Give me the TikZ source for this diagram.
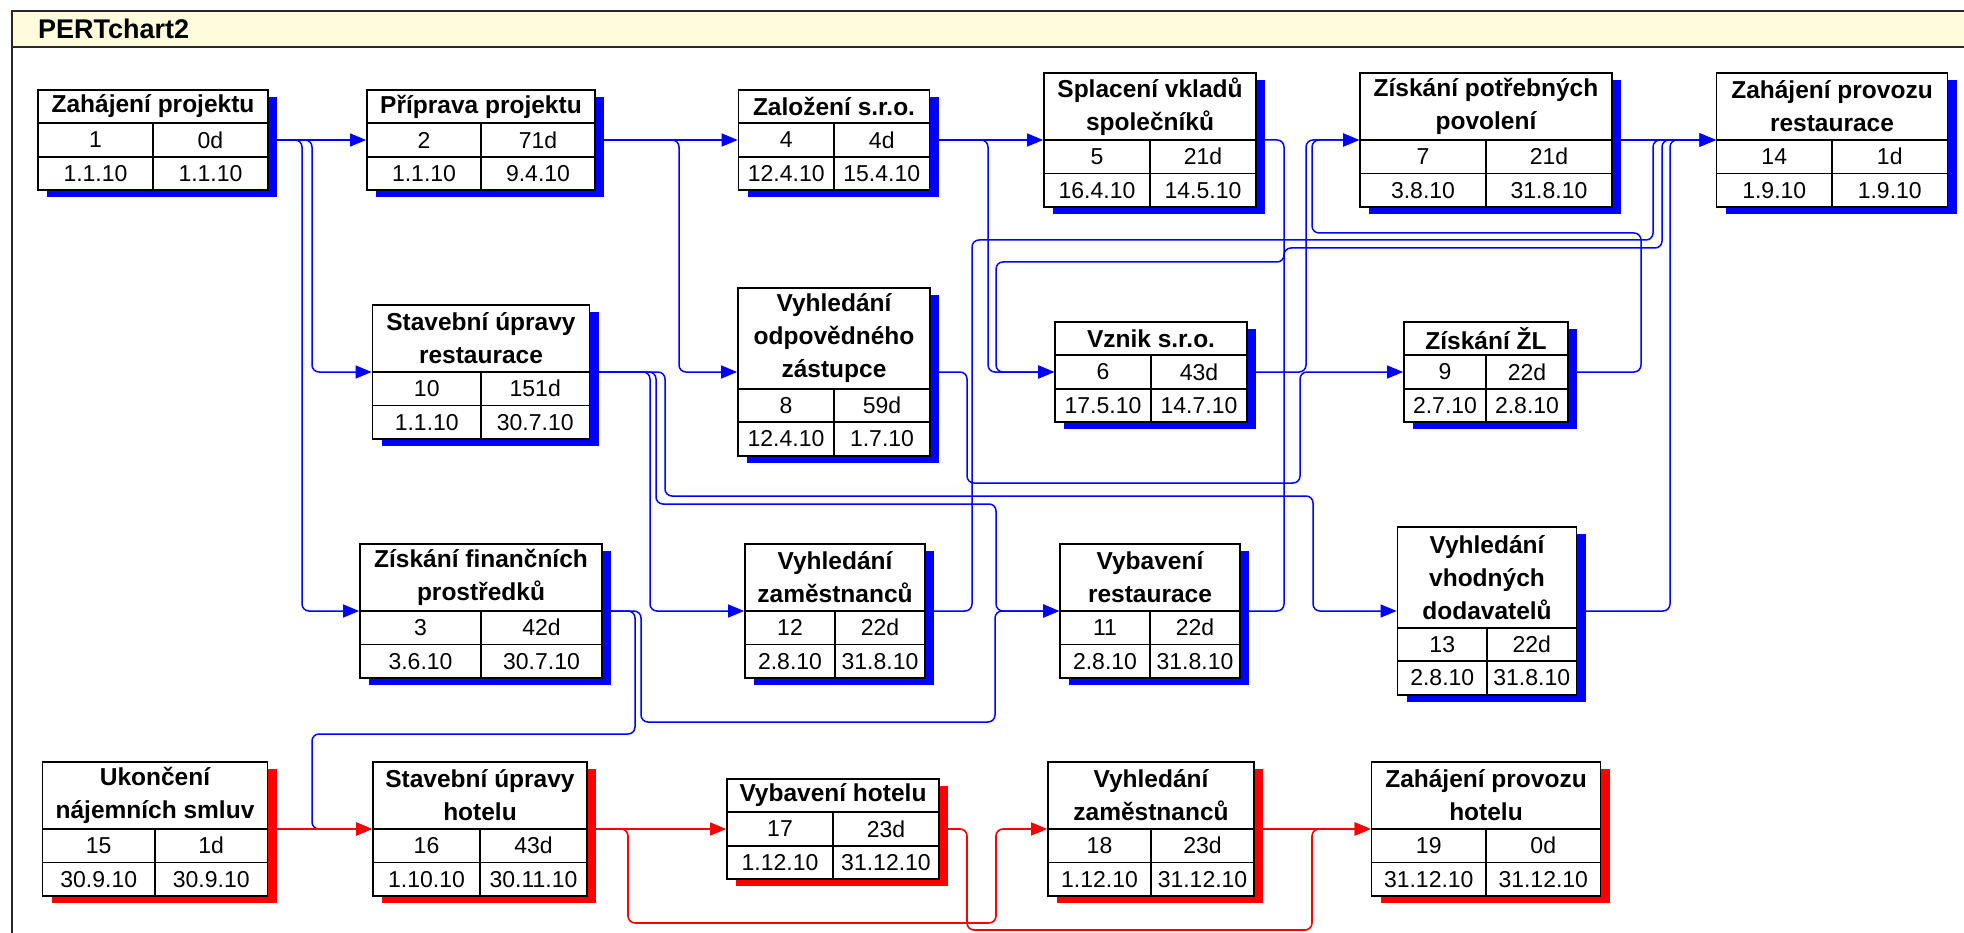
\documentclass[tikz,border=0pt]{standalone}
\usepackage{fontspec}
\setmainfont{Liberation Sans}
\usetikzlibrary{arrows.meta,shadows}
\definecolor{pblue}{RGB}{0,0,255}
\definecolor{pred}{RGB}{255,0,0}
\definecolor{titlefill}{RGB}{255,252,222}
\definecolor{framegray}{RGB}{40,40,40}
\pgfdeclarelayer{bgzero}
\pgfdeclarelayer{bgone}
\pgfsetlayers{bgzero,bgone,main}
\newcommand\rowh{33.5}
\newcommand\pbox[9]{%
  \pgfmathsetmacro\ph{(#6+2)*\rowh}%
  \pgfmathsetmacro\ptop{#4-\ph/2}%
  \pgfmathsetmacro\pya{\ptop+#6*\rowh}%
  \pgfmathsetmacro\pyb{\pya+\rowh}%
  \pgfmathsetmacro\pbot{\ptop+\ph}%
  \pgfmathsetmacro\pl{#3-#5/2}%
  \pgfmathsetmacro\pr{#3+#5/2}%
  \pgfmathsetmacro\pyt{(\ptop+\pya)/2}%
  \pgfmathsetmacro\pyc{(\pya+\pyb)/2}%
  \pgfmathsetmacro\pyd{(\pyb+\pbot)/2}%
  \def\pcx{#3}\def\pname{#1}%
  \node[#2, minimum width=#5, minimum height=\ph] (#1) at (#3,#4) {};
  \node[titletext] (#1-t) at (#3,\pyt) {#7};
  \draw[cell] (\pl,\pya) -- (\pr,\pya) (\pl,\pyb) -- (\pr,\pyb) (#3,\pya) -- (#3,\pbot);
  \node[datatext] (#1-id) at ({(\pl+#3)/2},\pyc) {#8};
  \node[datatext] (#1-du) at ({(\pr+#3)/2},\pyc) {#9};}
\newcommand\pdates[2]{%
  \node[datatext] (\pname-s) at ({(\pl+\pcx)/2},\pyd) {#1};
  \node[datatext] (\pname-e) at ({(\pr+\pcx)/2},\pyd) {#2};}
\begin{document}
\begin{tikzpicture}[x=1pt,y=-1pt,
  boxb/.style={draw=black,line width=1.8pt,fill=white,inner sep=0pt,
     general shadow={fill=pblue,shadow xshift=9pt,shadow yshift=-7pt}},
  boxr/.style={draw=black,line width=1.8pt,fill=white,inner sep=0pt,
     general shadow={fill=pred,shadow xshift=9pt,shadow yshift=-7pt}},
  titletext/.style={font=\bfseries\fontsize{24.5}{33}\selectfont,align=center,inner sep=0pt},
  datatext/.style={font=\fontsize{23}{27}\selectfont,inner sep=0pt},
  cell/.style={line width=1.8pt,draw=black},
  link/.style={draw=pblue,line width=1.5pt,rounded corners=7pt,-{Triangle[length=16pt,width=13pt]}},
  crit/.style={link,draw=pred,line width=1.6pt},
  frameline/.style={draw=framegray,line width=2pt}
]
\useasboundingbox (0,0) rectangle (1964,933);
\begin{pgfonlayer}{bgzero}
\fill[white] (0,0) rectangle (1964,933);
\fill[titlefill] (12,11) rectangle (1964,47);
\draw[frameline] (12,933) -- (12,11) -- (1964,11);
\draw[frameline] (12,47) -- (1964,47);
\end{pgfonlayer}
\node[anchor=west,font=\bfseries\fontsize{27}{30}\selectfont,inner sep=0pt] (charttitle) at (38,29) {PERTchart2};

% ---------- boxes ----------
\pbox{t1}{boxb}{153}{140}{230}{1}{Zahájení projektu}{1}{0d}\pdates{1.1.10}{1.1.10}
\pbox{t2}{boxb}{481}{140}{228}{1}{Příprava projektu}{2}{71d}\pdates{1.1.10}{9.4.10}
\pbox{t4}{boxb}{834}{140}{191}{1}{Založení s.r.o.}{4}{4d}\pdates{12.4.10}{15.4.10}
\pbox{t5}{boxb}{1150}{140}{212}{2}{Splacení vkladů\\společníků}{5}{21d}\pdates{16.4.10}{14.5.10}
\pbox{t7}{boxb}{1486}{140}{252}{2}{Získání potřebných\\povolení}{7}{21d}\pdates{3.8.10}{31.8.10}
\pbox{t14}{boxb}{1832}{140}{231}{2}{Zahájení provozu\\restaurace}{14}{1d}\pdates{1.9.10}{1.9.10}
\pbox{t10}{boxb}{481}{372}{217}{2}{Stavební úpravy\\restaurace}{10}{151d}\pdates{1.1.10}{30.7.10}
\pbox{t8}{boxb}{834}{372}{192}{3}{Vyhledání\\odpovědného\\zástupce}{8}{59d}\pdates{12.4.10}{1.7.10}
\pbox{t6}{boxb}{1151}{372}{192}{1}{Vznik s.r.o.}{6}{43d}\pdates{17.5.10}{14.7.10}
\pbox{t9}{boxb}{1486}{372}{164}{1}{Získání ŽL}{9}{22d}\pdates{2.7.10}{2.8.10}
\pbox{t3}{boxb}{481}{611}{242}{2}{Získání finančních\\prostředků}{3}{42d}\pdates{3.6.10}{30.7.10}
\pbox{t12}{boxb}{835}{611}{180}{2}{Vyhledání\\zaměstnanců}{12}{22d}\pdates{2.8.10}{31.8.10}
\pbox{t11}{boxb}{1150}{611}{180}{2}{Vybavení\\restaurace}{11}{22d}\pdates{2.8.10}{31.8.10}
\pbox{t13}{boxb}{1487}{611}{179}{3}{Vyhledání\\vhodných\\dodavatelů}{13}{22d}\pdates{2.8.10}{31.8.10}
\pbox{t15}{boxr}{155}{829}{225}{2}{Ukončení\\nájemních smluv}{15}{1d}\pdates{30.9.10}{30.9.10}
\pbox{t16}{boxr}{480}{829}{214}{2}{Stavební úpravy\\hotelu}{16}{43d}\pdates{1.10.10}{30.11.10}
\pbox{t17}{boxr}{833}{829}{212}{1}{Vybavení hotelu}{17}{23d}\pdates{1.12.10}{31.12.10}
\pbox{t18}{boxr}{1151}{829}{206}{2}{Vyhledání\\zaměstnanců}{18}{23d}\pdates{1.12.10}{31.12.10}
\pbox{t19}{boxr}{1486}{829}{229}{2}{Zahájení provozu\\hotelu}{19}{0d}\pdates{31.12.10}{31.12.10}

\begin{pgfonlayer}{bgone}
% ---------- non-critical links ----------
\draw[link] (t1.east) -- (t2.west);
\draw[link] (t1.east) -| (312,372) -- (t10.west);
\draw[link] (t1.east) -| (302,611) -- (t3.west);
\draw[link] (t2.east) -- (t4.west);
\draw[link] (t2.east) -| (679,372) -- (t8.west);
\draw[link] (t4.east) -- (t5.west);
\draw[link] (t4.east) -| (988,372) -- (t6.west);
\draw[link] (t5.east) -| (1284,262) -| (996,372) -- (t6.west);
\draw[link] (t6.east) -| (1306,140) -- (t7.west);
\draw[link] (t8.east) -| (967,483) -| (1300,372) -- (t9.west);
\draw[link] (t9.east) -| (1641,233) -| (1312,140) -- (t7.west);
\draw[link] (t10.east) -| (650,611) -- (t12.west);
\draw[link] (t10.east) -| (656,504) -| (996,611) -- (t11.west);
\draw[link] (t10.east) -| (665,496) -| (1313,611) -- (t13.west);
\draw[link] (t3.east) -| (641,722) -| (995,611) -- (t11.west);
\draw[link] (t3.east) -| (635,734) -| (312,829) -- (t16.west);
\draw[link] (t11.east) -| (1284,248) -| (1662,140) -- (t14.west);
\draw[link] (t12.east) -| (972,240) -| (1653,140) -- (t14.west);
\draw[link] (t13.east) -| (1670,140) -- (t14.west);
\draw[link] (t7.east) -- (t14.west);
% ---------- critical links ----------
\draw[crit] (t15.east) -- (t16.west);
\draw[crit] (t16.east) -- (t17.west);
\draw[crit] (t16.east) -| (628,923) -| (996,829) -- (t18.west);
\draw[crit] (t17.east) -| (967,930) -| (1312,829) -- (t19.west);
\draw[crit] (t18.east) -- (t19.west);
\end{pgfonlayer}
\end{tikzpicture}
\end{document}
